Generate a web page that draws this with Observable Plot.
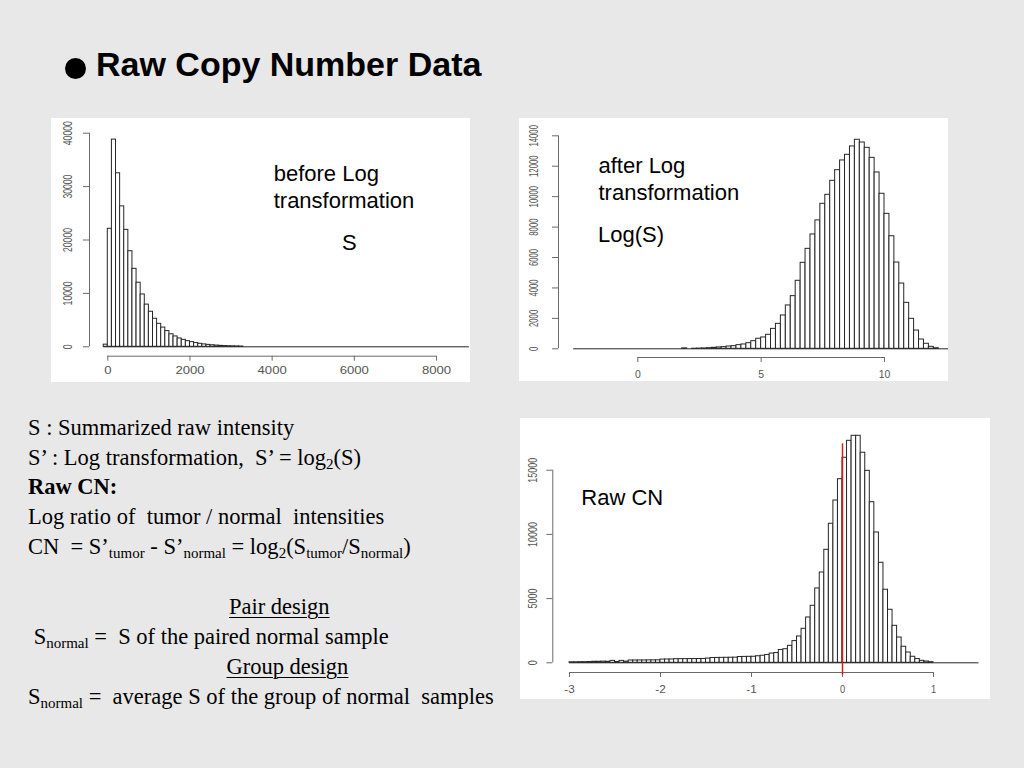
<!DOCTYPE html>
<html>
<head>
<meta charset="utf-8">
<script src="https://cdn.jsdelivr.net/npm/d3@7"></script>
<script src="https://cdn.jsdelivr.net/npm/@observablehq/plot@0.6"></script>
<style>
  html, body { margin: 0; padding: 0; }
  body { width: 1024px; height: 768px; background: #e8e8e8; position: relative; overflow: hidden; }
  .abs { position: absolute; white-space: pre; }
  .panel { position: absolute; background: #fff; }
  .panel svg { display: block; }
  .sans { font-family: "Liberation Sans", Arial, sans-serif; color: #000; font-size: 22px; line-height: 27px; }
  .serif { font-family: "Liberation Serif", "Times New Roman", serif; color: #000; font-size: 22.5px; line-height: 30px; height: 30px; }
  .serif sub { font-size: 15px; vertical-align: -4px; line-height: 0; }
  .u { text-decoration: underline; text-underline-offset: 3px; text-decoration-thickness: 1px; }
  #bullet { position: absolute; left: 64.5px; top: 58px; width: 21px; height: 21px; border-radius: 50%; background: #000; }
  #title { font-family: "Liberation Sans", Arial, sans-serif; font-weight: bold; font-size: 34px; line-height: 34px; left: 96px; top: 47px; color: #000; }
</style>
</head>
<body>
<div id="bullet"></div>
<div id="title" class="abs">Raw Copy Number Data</div>

<div id="p1" class="panel" style="left:51px; top:118px; width:419px; height:264px"></div>
<div id="p2" class="panel" style="left:519px; top:118px; width:429px; height:263px"></div>
<div id="p3" class="panel" style="left:520px; top:418px; width:470px; height:281px"></div>

<div class="abs sans" style="left:273.7px; top:160px">before Log
transformation</div>
<div class="abs sans" style="left:342px; top:228.6px">S</div>
<div class="abs sans" style="left:598.5px; top:152px">after Log
transformation</div>
<div class="abs sans" style="left:598px; top:221px">Log(S)</div>
<div class="abs sans" style="left:581.3px; top:484.2px">Raw CN</div>

<div class="abs serif" style="left:28px; top:413px">S : Summarized raw intensity</div>
<div class="abs serif" style="left:28px; top:442.5px">S’ : Log transformation,  S’ = log<sub>2</sub>(S)</div>
<div class="abs serif" style="left:28px; top:472px"><b>Raw CN:</b></div>
<div class="abs serif" style="left:28px; top:502px">Log ratio of  tumor / normal  intensities</div>
<div class="abs serif" style="left:28px; top:532.4px">CN  = S’<sub>tumor</sub> - S’<sub>normal</sub> = log<sub>2</sub>(S<sub>tumor</sub>/S<sub>normal</sub>)</div>
<div class="abs serif u" style="left:229px; top:591.6px">Pair design</div>
<div class="abs serif" style="left:28px; top:621.6px"> S<sub>normal</sub> =  S of the paired normal sample</div>
<div class="abs serif u" style="left:226.5px; top:651.6px">Group design</div>
<div class="abs serif" style="left:28px; top:681.6px">S<sub>normal</sub> =  average S of the group of normal  samples</div>

<script>
// ---------- Data: histogram of S (before log) ----------
const sBinStart = -100;
const sBinWidth = 100;
const sCounts = [400, 22100, 38800, 32500, 26300, 21900, 17900, 14600, 12000, 9800,
  7900, 6560, 5250, 4300, 3600, 2940, 2350, 1940, 1560, 1300,
  1060, 870, 700, 560, 450, 360, 290, 230, 180, 140,
  110, 90, 70, 55];
const sRange = [-100, 8800];
const sXTicks = [0, 2000, 4000, 6000, 8000];
const sYTicks = [0, 10000, 20000, 30000, 40000];

// ---------- Data: histogram of Log(S) ----------
const logBinStart = 1.8;
const logBinWidth = 0.2;
const logCounts = [30, 0, 5, 15, 25, 40, 65, 90, 110, 150,
  175, 240, 285, 370, 500, 660, 745, 920, 1310, 1640,
  2190, 2850, 3460, 4470, 5650, 6570, 7515, 8440, 9530, 10120,
  11040, 11740, 12380, 12750, 13300, 13740, 13560, 13210, 12550, 11590,
  10190, 8870, 7400, 5670, 4290, 3020, 1970, 1200, 610, 330,
  130, 40];
const logRange = [-2.6, 12.6];
const logXTicks = [0, 5, 10];
const logYTicks = [0, 2000, 4000, 6000, 8000, 10000, 12000, 14000];

// ---------- Data: histogram of raw CN ----------
const cnBinStart = -3;
const cnBinWidth = 0.05;
const cnCounts = [40, 40, 50, 50, 60, 80, 80, 90, 80, 150,
  60, 150, 90, 180, 180, 185, 185, 190, 190, 195,
  250, 255, 260, 280, 285, 285, 290, 290, 295, 300,
  330, 370, 380, 385, 390, 395, 400, 450, 460, 465,
  470, 510, 550, 610, 720, 760, 1000, 1060, 1320, 1690,
  2050, 2650, 3530, 4440, 5790, 7035, 8800, 10830, 12640, 14300,
  15970, 17290, 17680, 17680, 16360, 14950, 12510, 10150, 7790, 5690,
  4130, 2880, 1970, 1250, 800, 470, 290, 155, 100, 50];
const cnRange = [-3, 1.5];
const cnXTicks = [-3, -2, -1, 0, 1];
const cnYTicks = [0, 5000, 10000, 15000];
const cnRefX = [0];
const cnRefSpan = [-960, 17050];

const AXIS = "#6a6a6a", LABEL = "#555", BAR = "#262626";

function squeeze(svg, sel, charW) {
  svg.querySelectorAll(sel).forEach(t => {
    const nat = t.getComputedTextLength();
    const want = charW * t.textContent.length;
    const tr = t.getAttribute("transform");
    if (nat > 0 && tr) {
      t.setAttribute("transform", `${tr} scale(${want / nat},1)`);
    } else {
      t.setAttribute("textLength", want);
      t.setAttribute("lengthAdjust", "spacingAndGlyphs");
    }
  });
}

function hist(id, cfg) {
  const el = document.getElementById(id);
  const [L, T, W, H] = cfg.rect;
  const kx = (cfg.xMap[1][1] - cfg.xMap[0][1]) / (cfg.xMap[1][0] - cfg.xMap[0][0]);
  const invX = px => cfg.xMap[0][1] + (px - cfg.xMap[0][0]) * kx;
  const ky = (cfg.yMap[1][1] - cfg.yMap[0][1]) / (cfg.yMap[1][0] - cfg.yMap[0][0]);
  const invY = px => cfg.yMap[0][1] + (px - cfg.yMap[0][0]) * ky;
  const xDom = [invX(cfg.yAxisPx), invX(L + W)];
  const yDom = [invY(cfg.xAxisPx), invY(T)];
  const bins = cfg.counts.map((n, i) => ({x0: cfg.start + i * cfg.width, x1: cfg.start + (i + 1) * cfg.width, n}));
  const xt = cfg.xTicks, yt = cfg.yTicks;
  const marks = [
    Plot.rectY(bins, {x1: "x0", x2: "x1", y1: 0, y2: "n", fill: "white", stroke: BAR, strokeWidth: 1}),
    Plot.ruleY([0], {x1: cfg.range[0], x2: cfg.range[1], stroke: BAR, strokeWidth: 1}),
    Plot.ruleX([xDom[0]], {y1: yt[0], y2: yt[yt.length - 1], stroke: AXIS}),
    Plot.axisY({ticks: yt, tickSize: 6, tickFormat: () => "", stroke: AXIS, label: null, anchor: "left"}),
    Plot.text(yt, {x: xDom[0], y: d => d, text: d => String(d), rotate: -90, dx: -cfg.yLabOff, fontSize: 12.5,
      fill: LABEL, ariaDescription: "ytl"}),
    Plot.ruleY([yDom[0]], {x1: xt[0], x2: xt[xt.length - 1], stroke: AXIS}),
    Plot.axisX({ticks: xt, tickSize: 5, tickFormat: () => "", stroke: AXIS, label: null, anchor: "bottom"}),
    Plot.text(xt, {x: d => d, y: yDom[0], text: d => String(d), dy: cfg.xLabOff, fontSize: 11, fill: LABEL, ariaDescription: "xtl"})
  ];
  if (cfg.extra) marks.push(...cfg.extra);
  const svg = Plot.plot({
    width: W, height: H,
    marginLeft: cfg.yAxisPx - L, marginRight: 0, marginTop: 0, marginBottom: T + H - cfg.xAxisPx,
    x: {domain: xDom}, y: {domain: yDom},
    style: {background: "white", fontFamily: "'Liberation Sans', Arial, sans-serif"},
    marks
  });
  el.appendChild(svg);
  squeeze(svg, 'g[aria-description="ytl"] text', cfg.yCharW);
  squeeze(svg, 'g[aria-description="xtl"] text', cfg.xCharW);
}

hist("p1", {
  rect: [51, 118, 419, 264],
  xMap: [[107.3, 0], [436, 8000]],
  yMap: [[346.3, 0], [132.7, 40000]],
  yAxisPx: 89, xAxisPx: 355.7,
  start: sBinStart, width: sBinWidth, counts: sCounts, range: sRange,
  xTicks: sXTicks, yTicks: sYTicks,
  yLabOff: 22, xLabOff: 14, yCharW: 4.8, xCharW: 7.3
});

hist("p2", {
  rect: [519, 118, 429, 263],
  xMap: [[637.3, 0], [884, 10]],
  yMap: [[348.3, 0], [135.3, 14000]],
  yAxisPx: 558, xAxisPx: 357,
  start: logBinStart, width: logBinWidth, counts: logCounts, range: logRange,
  xTicks: logXTicks, yTicks: logYTicks,
  yLabOff: 25, xLabOff: 17, yCharW: 4.3, xCharW: 5.8
});

hist("p3", {
  rect: [520, 418, 470, 281],
  xMap: [[569, -3], [933, 1]],
  yMap: [[662.3, 0], [469.7, 15000]],
  yAxisPx: 552.3, xAxisPx: 672,
  start: cnBinStart, width: cnBinWidth, counts: cnCounts, range: cnRange,
  xTicks: cnXTicks, yTicks: cnYTicks,
  yLabOff: 19.5, xLabOff: 16.7, yCharW: 5.0, xCharW: 5.2,
  extra: [Plot.ruleX(cnRefX, {y1: cnRefSpan[0], y2: cnRefSpan[1], stroke: "#dd1a1a", strokeWidth: 1.5})]
});
</script>
</body>
</html>
